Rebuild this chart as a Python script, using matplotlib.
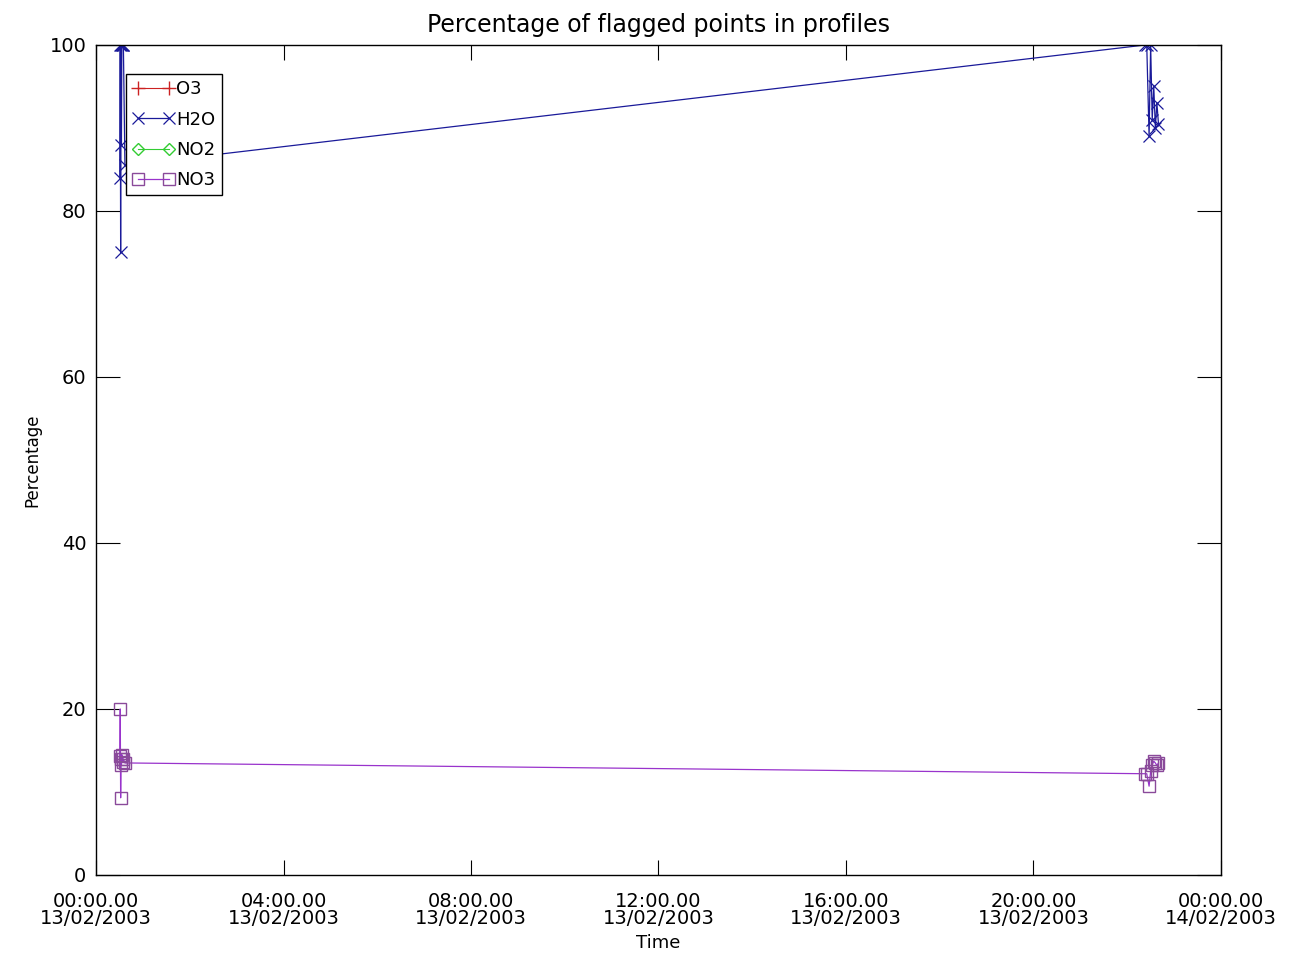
import numpy as np
import pandas as pd
import matplotlib
matplotlib.use("Agg")
import matplotlib.pyplot as plt
import matplotlib.dates as mdates

day = "2003-02-13 "

# profile times (two clusters of soundings) and flagged percentages
times = ["00:30:30", "00:31:00", "00:31:30", "00:32:00", "00:32:30", "00:33:00",
         "00:34:00", "00:35:00", "00:37:00",
         "22:23:00", "22:25:00", "22:28:00", "22:30:00", "22:32:00", "22:34:00",
         "22:36:00", "22:38:00", "22:40:00"]
h2o = [84, 100, 75, 100, 88, 100, 100, 100, 85.5,
       100, 100, 89, 100, 91, 95, 90, 93, 90.5]
no3 = [14.3, 20, 9.3, 14, 13.2, 14.5, 13.6, 14, 13.5,
       12.2, 12.2, 10.7, 12.5, 13.3, 13.7, 13.5, 13.2, 13.5]
o3 = []
no2 = []

xlim = ["2003-02-13 00:00", "2003-02-14 00:00"]
yticks = [0, 20, 40, 60, 80, 100]

t = pd.to_datetime([day + s for s in times])

plt.rcParams['font.family'] = ['DejaVu Sans']
fig = plt.figure(figsize=(12.96, 9.59), dpi=100)
ax = fig.add_axes([0.0741, 0.0876, 0.868, 0.8655])

ax.plot([], [], color="#cc2222", marker="+", ms=10, lw=0.8, label="O3")
ax.plot(t, h2o, color="#1a1a99", marker="x", ms=9, mew=0.9, lw=0.9, label="H2O")
ax.plot([], [], color="#33cc33", marker="D", ms=6, mfc="none", lw=0.8, label="NO2")
ax.plot(t, no3, color="#9933cc", marker="s", ms=9, mfc="none", mec="#8a4a9a",
        mew=1.0, lw=0.9, label="NO3")

ax.set_xlim(pd.to_datetime(xlim))
ax.set_ylim(0, 100)
ax.set_yticks(yticks)
ax.xaxis.set_major_locator(mdates.HourLocator(interval=4))
ax.xaxis.set_major_formatter(mdates.DateFormatter("%H:%M.%S\n%d/%m/%Y"))
ax.tick_params(axis="x", direction="in", length=11, top=True, labelsize=14, pad=12)
ax.tick_params(axis="y", direction="in", length=17, right=True, labelsize=14, pad=7)
for lab in ax.get_xticklabels():
    lab.set_linespacing(0.9)
for s in ax.spines.values():
    s.set_linewidth(1.0)

ax.set_title("Percentage of flagged points in profiles", fontsize=17, pad=9)
ax.set_xlabel("Time", fontsize=13, labelpad=4)
ax.set_ylabel("Percentage", fontsize=12, labelpad=6)

leg = ax.legend(loc="upper left", bbox_to_anchor=(0.027, 0.965), numpoints=2,
                handlelength=2.3, handletextpad=0.1, borderaxespad=0,
                fancybox=False, framealpha=1, edgecolor="black", fontsize=13,
                labelspacing=0.68, borderpad=0.35, handleheight=0.7)
leg.get_frame().set_linewidth(1.0)

fig.savefig("out.png", dpi=100)
